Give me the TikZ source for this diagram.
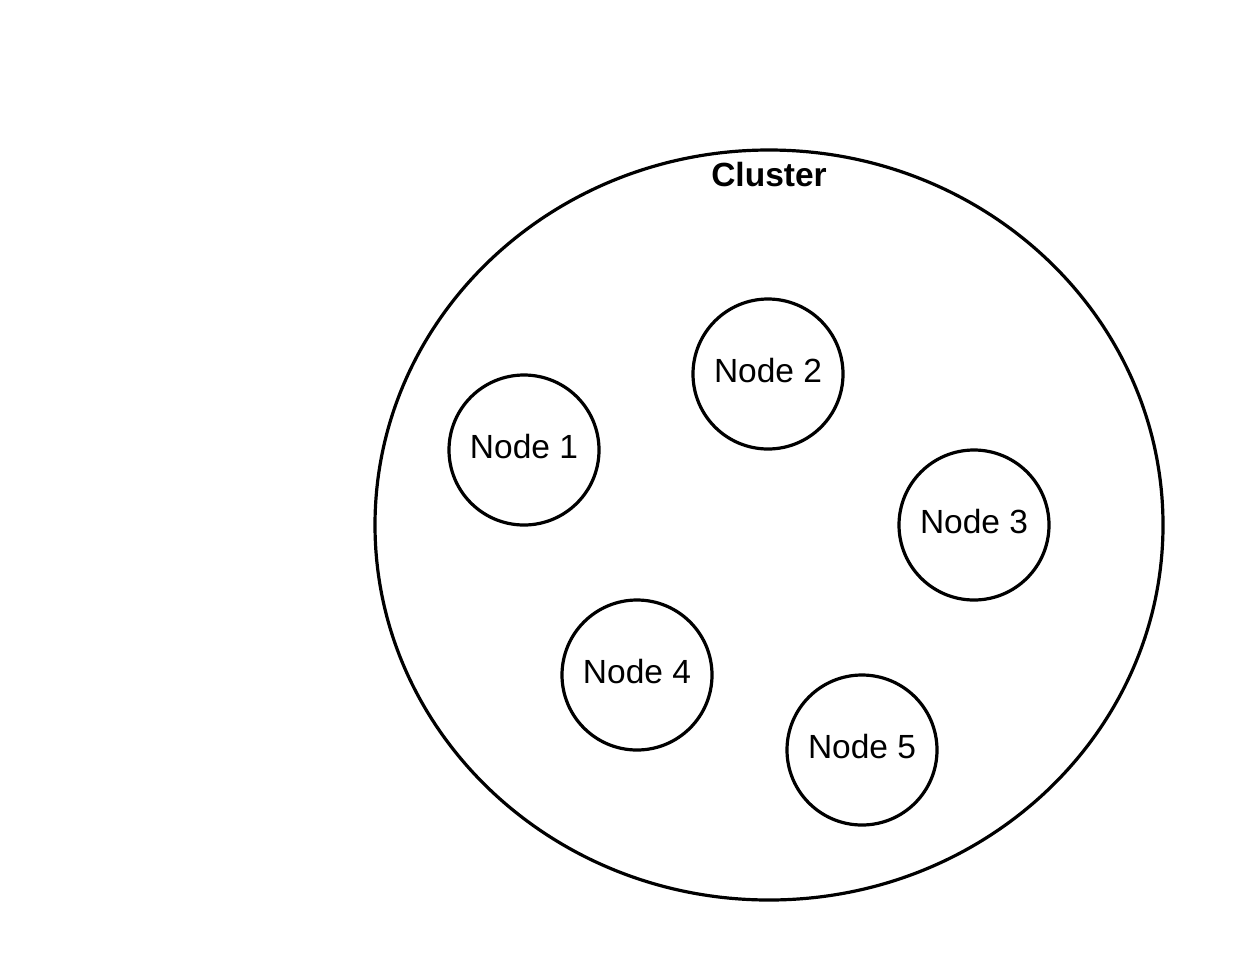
\documentclass[tikz,border=0pt]{standalone}
\usepackage{fontspec}
\setmainfont{Liberation Sans}
\usetikzlibrary{shapes.geometric}
\begin{document}
\begin{tikzpicture}[x=1pt,y=-1pt,
  member/.style={draw,circle,line width=3.2pt,minimum size=150pt,inner sep=0pt,text height=24pt,text depth=8pt,font=\fontsize{33.5}{40}\selectfont},
  clusterbox/.style={draw,ellipse,line width=3.2pt,minimum width=788pt,minimum height=750pt,inner sep=0pt}]
\useasboundingbox (0,0) rectangle (1238,975);
\node[clusterbox] (cluster) at (769,525) {};
\node[font=\fontsize{33.5}{40}\selectfont\bfseries] (clabel) at (769,175) {Cluster};
\node[member] (n1) at (524,450) {Node 1};
\node[member] (n2) at (768,374) {Node 2};
\node[member] (n3) at (974,525) {Node 3};
\node[member] (n4) at (637,675) {Node 4};
\node[member] (n5) at (862,750) {Node 5};
\end{tikzpicture}
\end{document}
